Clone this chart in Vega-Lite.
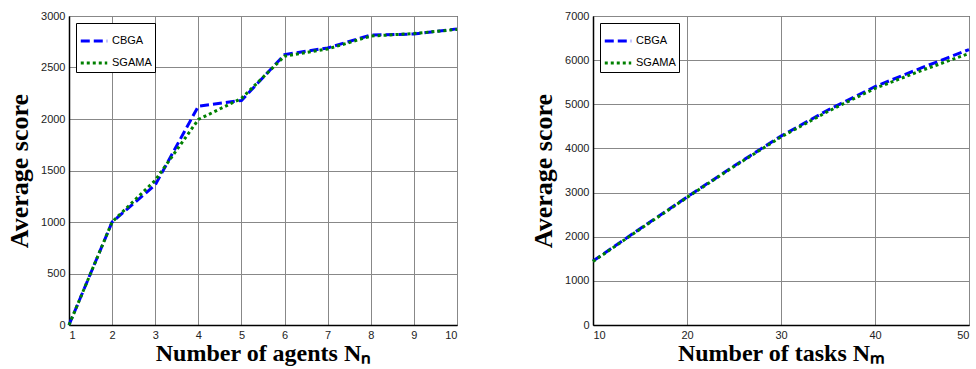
{
  "$schema": "https://vega.github.io/schema/vega-lite/v6.json",
  "background": "white",
  "padding": {"left": 6, "top": 9, "right": 2, "bottom": 2},
  "spacing": 66,
  "config": {
    "view": {"stroke": "black", "strokeWidth": 1},
    "axis": {
      "labelFont": "Liberation Sans", "labelFontSize": 11, "labelColor": "#222",
      "titleFont": "Liberation Serif", "titleFontSize": 26, "titleFontWeight": "bold", "titleColor": "black",
      "gridColor": "#888", "gridOpacity": 1, "gridWidth": 1,
      "domainColor": "black", "domainWidth": 1.5,
      "ticks": false, "labelPadding": 4, "format": "d"
    },
    "axisX": {"titleFontSize": 24, "titlePadding": 1},
    "legend": {
      "orient": "top-left", "offset": 7, "strokeColor": "black", "fillColor": "white",
      "padding": 3, "labelFont": "Liberation Sans", "labelFontSize": 11, "labelColor": "black",
      "symbolType": "stroke", "symbolSize": 700, "symbolStrokeWidth": 3, "rowPadding": 1, "title": null, "labelOffset": 3
    }
  },
  "datasets": {
    "agents": [
      {"n": 1, "algo": "CBGA", "score": 0},
      {"n": 2, "algo": "CBGA", "score": 1000},
      {"n": 3, "algo": "CBGA", "score": 1360},
      {"n": 4, "algo": "CBGA", "score": 2124},
      {"n": 5, "algo": "CBGA", "score": 2180},
      {"n": 6, "algo": "CBGA", "score": 2625},
      {"n": 7, "algo": "CBGA", "score": 2690},
      {"n": 8, "algo": "CBGA", "score": 2815},
      {"n": 9, "algo": "CBGA", "score": 2825},
      {"n": 10, "algo": "CBGA", "score": 2875},
      {"n": 1, "algo": "SGAMA", "score": 0},
      {"n": 2, "algo": "SGAMA", "score": 1000},
      {"n": 3, "algo": "SGAMA", "score": 1405},
      {"n": 4, "algo": "SGAMA", "score": 1995},
      {"n": 5, "algo": "SGAMA", "score": 2200},
      {"n": 6, "algo": "SGAMA", "score": 2610},
      {"n": 7, "algo": "SGAMA", "score": 2680},
      {"n": 8, "algo": "SGAMA", "score": 2805},
      {"n": 9, "algo": "SGAMA", "score": 2830},
      {"n": 10, "algo": "SGAMA", "score": 2870}
    ],
    "tasks": [
      {"m": 10, "algo": "CBGA", "score": 1450},
      {"m": 15, "algo": "CBGA", "score": 2180},
      {"m": 20, "algo": "CBGA", "score": 2900},
      {"m": 25, "algo": "CBGA", "score": 3600},
      {"m": 30, "algo": "CBGA", "score": 4280},
      {"m": 35, "algo": "CBGA", "score": 4870},
      {"m": 40, "algo": "CBGA", "score": 5400},
      {"m": 45, "algo": "CBGA", "score": 5830},
      {"m": 50, "algo": "CBGA", "score": 6240},
      {"m": 10, "algo": "SGAMA", "score": 1440},
      {"m": 15, "algo": "SGAMA", "score": 2170},
      {"m": 20, "algo": "SGAMA", "score": 2890},
      {"m": 25, "algo": "SGAMA", "score": 3590},
      {"m": 30, "algo": "SGAMA", "score": 4260},
      {"m": 35, "algo": "SGAMA", "score": 4840},
      {"m": 40, "algo": "SGAMA", "score": 5360},
      {"m": 45, "algo": "SGAMA", "score": 5770},
      {"m": 50, "algo": "SGAMA", "score": 6150}
    ]
  },
  "resolve": {"scale": {"color": "independent", "strokeDash": "independent", "y": "independent", "x": "independent"}, "legend": {"color": "independent", "strokeDash": "independent"}},
  "hconcat": [
    {
      "width": 388, "height": 309,
      "data": {"name": "agents"},
      "mark": {"type": "line", "strokeWidth": 3},
      "encoding": {
        "x": {"field": "n", "type": "quantitative", "scale": {"domain": [1, 10], "nice": false},
              "axis": {"values": [1,2,3,4,5,6,7,8,9,10], "title": "Number of agents Nₙ"}},
        "y": {"field": "score", "type": "quantitative", "scale": {"domain": [0, 3000], "nice": false},
              "axis": {"values": [0,500,1000,1500,2000,2500,3000], "title": "Average score", "titlePadding": 8}},
        "color": {"field": "algo", "type": "nominal", "scale": {"domain": ["CBGA", "SGAMA"], "range": ["#0000ff", "#008000"]}},
        "strokeDash": {"field": "algo", "type": "nominal", "scale": {"domain": ["CBGA", "SGAMA"], "range": [[9, 4], [3, 3]]}}
      }
    },
    {
      "width": 376, "height": 309,
      "data": {"name": "tasks"},
      "mark": {"type": "line", "strokeWidth": 3},
      "encoding": {
        "x": {"field": "m", "type": "quantitative", "scale": {"domain": [10, 50], "nice": false},
              "axis": {"values": [10,20,30,40,50], "title": "Number of tasks Nₘ"}},
        "y": {"field": "score", "type": "quantitative", "scale": {"domain": [0, 7000], "nice": false},
              "axis": {"values": [0,1000,2000,3000,4000,5000,6000,7000], "title": "Average score", "titlePadding": 8}},
        "color": {"field": "algo", "type": "nominal", "scale": {"domain": ["CBGA", "SGAMA"], "range": ["#0000ff", "#008000"]}},
        "strokeDash": {"field": "algo", "type": "nominal", "scale": {"domain": ["CBGA", "SGAMA"], "range": [[9, 4], [3, 3]]}}
      }
    }
  ]
}
